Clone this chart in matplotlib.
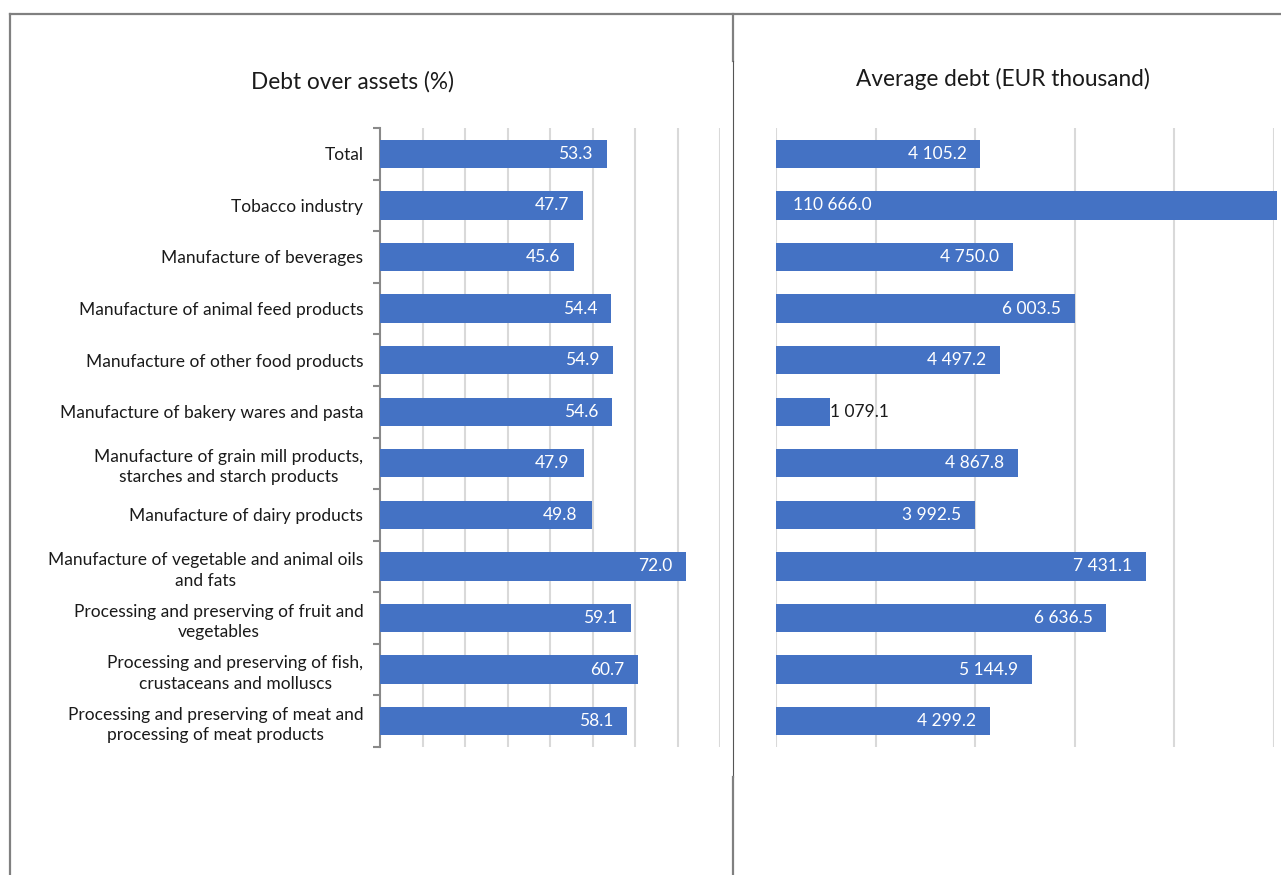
import matplotlib
matplotlib.use("Agg")
import matplotlib.pyplot as plt
from matplotlib.lines import Line2D
from matplotlib.transforms import Bbox, TransformedBbox

plt.rcParams['font.family'] = ['Lato', 'DejaVu Sans']

categories = [
    "Total",
    "Tobacco industry",
    "Manufacture of beverages",
    "Manufacture of animal feed products",
    "Manufacture of other food products",
    "Manufacture of bakery wares and pasta",
    "Manufacture of grain mill products,\nstarches and starch products",
    "Manufacture of dairy products",
    "Manufacture of vegetable and animal oils\nand fats",
    "Processing and preserving of fruit and\nvegetables",
    "Processing and preserving of fish,\ncrustaceans and molluscs",
    "Processing and preserving of meat and\nprocessing of meat products",
]
debt_over_assets = [53.3, 47.7, 45.6, 54.4, 54.9, 54.6, 47.9, 49.8, 72.0, 59.1, 60.7, 58.1]
average_debt = [4105.2, 110666.0, 4750.0, 6003.5, 4497.2, 1079.1, 4867.8, 3992.5,
                7431.1, 6636.5, 5144.9, 4299.2]

BAR = "#4472C4"
GRID = "#D9D9D9"
SPINE = "#898989"
FRAME = "#808080"
TEXT = "#1a1a1a"

W, H = 1281, 875
fig = plt.figure(figsize=(W / 100, H / 100), dpi=100)


def px_axes(x0, y0, x1, y1):
    return fig.add_axes([x0 / W, 1 - y1 / H, (x1 - x0) / W, (y1 - y0) / H])


def fmt_thousands(v):
    return f"{v:,.1f}".replace(",", " ")


n = len(categories)
pos = list(range(n))

# Left panel: debt over assets
axL = px_axes(380, 128, 720, 747)
axL.barh(pos, debt_over_assets, height=0.55, color=BAR, zorder=3)
axL.set_xlim(0, 80)
axL.set_ylim(n - 0.5, -0.5)
axL.set_xticks(range(10, 81, 10))
axL.xaxis.grid(True, color=GRID, linewidth=1.5, zorder=0)
axL.tick_params(axis='x', length=0, labelbottom=False)
axL.set_yticks(pos)
axL.set_yticklabels(categories, fontsize=12.5, color=TEXT,
                    multialignment='center', linespacing=1.35)
axL.tick_params(axis='y', which='major', length=0, pad=12)
axL.set_yticks([p - 0.5 for p in pos] + [n - 0.5], minor=True)
axL.tick_params(axis='y', which='minor', length=5, width=1.5, color=SPINE)
for s in ("top", "right", "bottom"):
    axL.spines[s].set_visible(False)
axL.spines["left"].set_color(SPINE)
axL.spines["left"].set_linewidth(1.5)
for p, v in zip(pos, debt_over_assets):
    axL.annotate(f"{v:.1f}", (v, p), xytext=(-10, 0), textcoords="offset points",
                 ha="right", va="center", color="white", fontsize=12.5, zorder=4)
fig.text(352 / W, 1 - 82 / H, "Debt over assets (%)", ha="center", va="center",
         fontsize=16.3, color=TEXT)

# Right panel: average debt
axR = px_axes(776, 128, 1274, 747)
bars = axR.barh(pos, average_debt, height=0.55, color=BAR, zorder=3)
axR.set_xlim(0, 10000)
axR.set_ylim(n - 0.5, -0.5)
axR.set_xticks(range(0, 10001, 2000))
axR.xaxis.grid(True, color=GRID, linewidth=1.5, zorder=0)
axR.tick_params(axis='both', length=0, labelbottom=False, labelleft=False)
for s in axR.spines.values():
    s.set_visible(False)
# let an overflowing bar run just past the last gridline
clip = TransformedBbox(Bbox([[0, 0], [1.006, 1]]), axR.transAxes)
for patch in bars:
    patch.set_clip_box(clip)
xmax = axR.get_xlim()[1]
for p, v in zip(pos, average_debt):
    label = fmt_thousands(v)
    if v > xmax:
        axR.annotate(label, (0, p), xytext=(12, 0), textcoords="offset points",
                     ha="left", va="center", color="white", fontsize=12.5, zorder=4)
    elif v < 1500:
        axR.annotate(label, (v, p), xytext=(0, 0), textcoords="offset points",
                     ha="left", va="center", color=TEXT, fontsize=12.5, zorder=4)
    else:
        axR.annotate(label, (v, p), xytext=(-10, 0), textcoords="offset points",
                     ha="right", va="center", color="white", fontsize=12.5, zorder=4)
fig.text(1003 / W, 1 - 79 / H, "Average debt (EUR thousand)", ha="center", va="center",
         fontsize=16.3, color=TEXT)


# Outer frame and panel divider
def fig_line(x0, y0, x1, y1, lw, color):
    fig.add_artist(Line2D([x0 / W, x1 / W], [1 - y0 / H, 1 - y1 / H],
                          transform=fig.transFigure, color=color, linewidth=lw))


fig_line(10, 14, W, 14, 1.6, FRAME)
fig_line(10, 14, 10, H, 1.6, FRAME)
fig_line(733, 14, 733, 61, 1.6, FRAME)
fig_line(733, 61, 733, 777, 0.8, "#555555")
fig_line(733, 777, 733, H, 1.6, FRAME)

fig.savefig("out.png", dpi=100, facecolor="white")
